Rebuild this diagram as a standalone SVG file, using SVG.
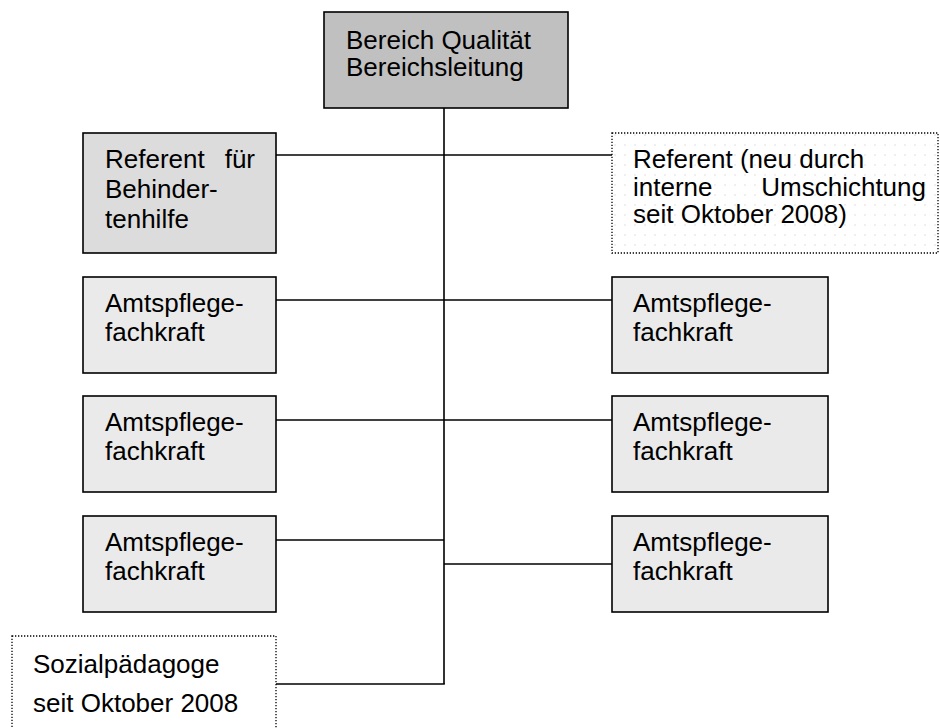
<svg xmlns="http://www.w3.org/2000/svg" width="940" height="728" viewBox="0 0 940 728">
  <defs>
    <pattern id="dots" x="0" y="0" width="10" height="10" patternUnits="userSpaceOnUse">
      <circle cx="5" cy="5" r="0.8" fill="#dadada"/>
    </pattern>
    <style>
      .box { stroke: #000; stroke-width: 1.6; }
      .dark { fill: #c0c0c0; }
      .mid { fill: #dcdcdc; }
      .light { fill: #eaeaea; }
      .dotted { stroke: #000; stroke-width: 1.3; stroke-dasharray: 1.3 1.7; }
      .t { font-family: "Liberation Sans", Arial, sans-serif; font-size: 26px; fill: #000; }
      .conn line { stroke: #000; stroke-width: 1.6; }
    </style>
  </defs>
  <rect width="940" height="728" fill="#fff"/>

  <g id="connectors" class="conn">
    <line x1="444" y1="108" x2="444" y2="684"/>
    <line x1="276" y1="155" x2="612" y2="155"/>
    <line x1="276" y1="300" x2="612" y2="300"/>
    <line x1="276" y1="420" x2="612" y2="420"/>
    <line x1="276" y1="540" x2="444" y2="540"/>
    <line x1="444" y1="564" x2="612" y2="564"/>
    <line x1="276" y1="684" x2="444.8" y2="684"/>
  </g>

  <g id="bereichsleitung">
    <rect class="box dark" x="324" y="12" width="244" height="96"/>
    <text class="t" x="346" y="49">Bereich Qualität</text>
    <text class="t" x="346" y="76">Bereichsleitung</text>
  </g>

  <g id="referent-behindertenhilfe">
    <rect class="box mid" x="83" y="133" width="193" height="120"/>
    <text class="t" x="105" y="168">Referent</text>
    <text class="t" x="255" y="168" text-anchor="end">für</text>
    <text class="t" x="105" y="198">Behinder-</text>
    <text class="t" x="105" y="228">tenhilfe</text>
  </g>

  <g id="referent-neu">
    <rect x="612" y="133" width="326" height="120" fill="url(#dots)"/>
    <rect class="dotted" x="612" y="133" width="326" height="120" fill="none"/>
    <text class="t" x="633" y="168">Referent (neu durch</text>
    <text class="t" x="633" y="196">interne</text>
    <text class="t" x="926" y="196" text-anchor="end">Umschichtung</text>
    <text class="t" x="633" y="223">seit Oktober 2008)</text>
  </g>

  <g id="amtspflege-l1">
    <rect class="box light" x="83" y="277" width="193" height="96"/>
    <text class="t" x="105" y="312">Amtspflege-</text>
    <text class="t" x="105" y="341">fachkraft</text>
  </g>
  <g id="amtspflege-l2">
    <rect class="box light" x="83" y="396" width="193" height="96"/>
    <text class="t" x="105" y="431">Amtspflege-</text>
    <text class="t" x="105" y="460">fachkraft</text>
  </g>
  <g id="amtspflege-l3">
    <rect class="box light" x="83" y="516" width="193" height="96"/>
    <text class="t" x="105" y="551">Amtspflege-</text>
    <text class="t" x="105" y="580">fachkraft</text>
  </g>

  <g id="amtspflege-r1">
    <rect class="box light" x="612" y="277" width="216" height="96"/>
    <text class="t" x="633" y="312">Amtspflege-</text>
    <text class="t" x="633" y="341">fachkraft</text>
  </g>
  <g id="amtspflege-r2">
    <rect class="box light" x="612" y="396" width="216" height="96"/>
    <text class="t" x="633" y="431">Amtspflege-</text>
    <text class="t" x="633" y="460">fachkraft</text>
  </g>
  <g id="amtspflege-r3">
    <rect class="box light" x="612" y="516" width="216" height="96"/>
    <text class="t" x="633" y="551">Amtspflege-</text>
    <text class="t" x="633" y="580">fachkraft</text>
  </g>

  <g id="sozialpaedagoge">
    <rect class="dotted" x="12" y="636" width="264" height="110" fill="#fff"/>
    <text class="t" x="33" y="673">Sozialpädagoge</text>
    <text class="t" x="33" y="712">seit Oktober 2008</text>
  </g>
</svg>
